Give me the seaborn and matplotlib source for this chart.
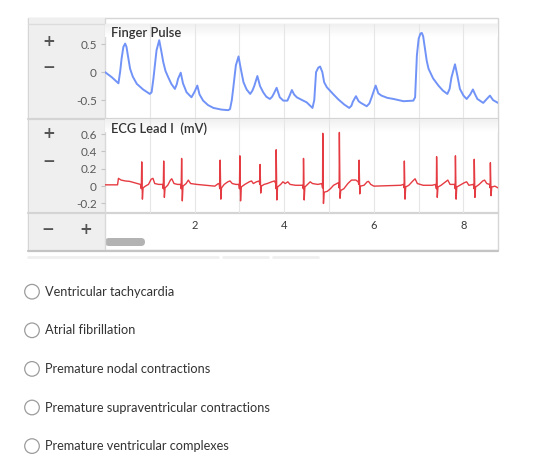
import matplotlib
matplotlib.use('Agg')
import numpy as np
import matplotlib.pyplot as plt
import seaborn as sns
from matplotlib.patches import Rectangle, FancyBboxPatch, Circle
from matplotlib.colors import LinearSegmentedColormap

# finger pulse trace (s, a.u.)
pulse_t = [0.00, 0.15, 0.30, 0.34, 0.37, 0.41, 0.45, 0.48, 0.51, 0.56, 0.62, 0.71, 0.85, 1.00,
           1.04, 1.08, 1.15, 1.21, 1.26, 1.30, 1.35, 1.41, 1.48, 1.56, 1.60, 1.63, 1.69, 1.74,
           1.82, 1.93, 2.00, 2.06, 2.11, 2.19, 2.30, 2.42, 2.60, 2.75, 2.79, 2.83, 2.86, 2.92,
           2.98, 3.03, 3.09, 3.16, 3.24, 3.29, 3.33, 3.40, 3.46, 3.53, 3.60, 3.68, 3.73, 3.77,
           3.83, 3.90, 3.98, 4.07, 4.12, 4.17, 4.22, 4.28, 4.40, 4.50, 4.63, 4.67, 4.71, 4.76,
           4.80, 4.85, 4.89, 4.95, 5.10, 5.21, 5.34, 5.45, 5.50, 5.53, 5.60, 5.66, 5.71, 5.84,
           5.90, 5.95, 6.04, 6.10, 6.17, 6.30, 6.44, 6.66, 6.88, 6.92, 6.96, 7.00, 7.04, 7.07,
           7.10, 7.14, 7.18, 7.22, 7.32, 7.44, 7.54, 7.64, 7.69, 7.73, 7.81, 7.86, 7.92, 8.00,
           8.07, 8.15, 8.21, 8.26, 8.31, 8.44, 8.52, 8.59, 8.66, 8.77]
pulse_v = [0.00, -0.09, -0.20, 0.02, 0.24, 0.45, 0.51, 0.45, 0.30, 0.06, -0.08, -0.21, -0.31, -0.39,
           -0.36, -0.12, 0.39, 0.57, 0.36, 0.18, 0.02, -0.09, -0.21, -0.30, -0.22, -0.12, -0.01, -0.20,
           -0.36, -0.45, -0.35, -0.24, -0.40, -0.51, -0.59, -0.64, -0.67, -0.68, -0.66, -0.50, -0.30, 0.12,
           0.28, 0.06, -0.18, -0.31, -0.39, -0.33, -0.25, -0.07, -0.25, -0.36, -0.44, -0.48, -0.44, -0.38,
           -0.28, -0.45, -0.51, -0.51, -0.42, -0.32, -0.40, -0.45, -0.50, -0.54, -0.64, -0.50, 0.00, 0.08,
           0.10, 0.00, -0.18, -0.27, -0.40, -0.49, -0.58, -0.64, -0.60, -0.53, -0.43, -0.52, -0.55, -0.61,
           -0.56, -0.45, -0.24, -0.38, -0.42, -0.46, -0.48, -0.52, -0.51, -0.45, 0.30, 0.60, 0.69, 0.70,
           0.64, 0.42, 0.20, 0.06, -0.11, -0.24, -0.33, -0.39, -0.30, -0.10, 0.14, -0.05, -0.30, -0.42,
           -0.48, -0.40, -0.31, -0.40, -0.48, -0.55, -0.48, -0.42, -0.50, -0.55]

# ECG lead I trace (s, mV)
ecg_t = [0.00, 0.28, 0.30, 0.36, 0.45, 0.55, 0.65, 0.72, 0.79,
         0.81, 0.82, 0.835, 0.85, 0.90, 0.97, 1.03, 1.07, 1.11, 1.20, 1.29,
         1.30, 1.31, 1.325, 1.34, 1.40, 1.46, 1.49, 1.54, 1.62, 1.69,
         1.70, 1.71, 1.725, 1.74, 1.81, 1.86, 1.91, 2.05, 2.25, 2.45, 2.53, 2.55,
         2.56, 2.57, 2.585, 2.60, 2.66, 2.74, 2.79, 2.84, 2.92, 2.99,
         3.00, 3.01, 3.025, 3.04, 3.12, 3.22, 3.27, 3.31, 3.38, 3.44,
         3.455, 3.46, 3.475, 3.49, 3.55, 3.62, 3.72, 3.78, 3.81,
         3.815, 3.82, 3.835, 3.85, 3.92, 3.97, 4.02, 4.08, 4.13, 4.25, 4.41,
         4.425, 4.43, 4.445, 4.46, 4.52, 4.58, 4.63, 4.75, 4.84,
         4.855, 4.86, 4.875, 4.89, 4.96, 5.03, 5.10, 5.17, 5.21,
         5.225, 5.23, 5.245, 5.26, 5.33, 5.42, 5.50, 5.60, 5.65,
         5.665, 5.67, 5.685, 5.70, 5.78, 5.85, 5.88, 5.93, 6.00, 6.30, 6.60, 6.66,
         6.675, 6.68, 6.695, 6.71, 6.78, 6.87, 6.92, 6.97, 7.10, 7.30, 7.38,
         7.395, 7.40, 7.415, 7.43, 7.50, 7.60, 7.65, 7.70, 7.80,
         7.815, 7.82, 7.835, 7.85, 7.92, 8.02, 8.07, 8.12, 8.22,
         8.235, 8.24, 8.255, 8.27, 8.35, 8.43, 8.47, 8.52, 8.58,
         8.595, 8.60, 8.615, 8.63, 8.70, 8.77]
ecg_mv = [0.015, 0.015, 0.09, 0.07, 0.06, 0.055, 0.04, 0.03, 0.02,
          -0.03, 0.28, -0.15, -0.02, 0.00, 0.02, 0.08, 0.09, 0.03, 0.02, 0.02,
          -0.03, 0.29, -0.13, -0.02, 0.01, 0.07, 0.085, 0.03, 0.02, 0.02,
          -0.03, 0.32, -0.17, 0.00, 0.03, 0.07, 0.03, 0.02, 0.01, 0.00, 0.03, 0.02,
          -0.03, 0.30, -0.15, -0.02, 0.02, 0.05, 0.06, 0.03, 0.02, 0.02,
          -0.03, 0.35, -0.17, -0.01, 0.02, 0.05, 0.06, 0.03, 0.05, 0.06,
          0.02, 0.25, -0.08, 0.00, 0.02, 0.03, 0.05, 0.06, 0.03,
          -0.03, 0.42, -0.16, -0.01, 0.02, 0.05, 0.03, 0.05, 0.02, 0.01, 0.01,
          -0.03, 0.32, -0.16, -0.01, 0.02, 0.05, 0.03, 0.02, 0.03,
          -0.02, 0.61, -0.20, -0.07, -0.06, -0.03, 0.01, 0.03, 0.04,
          -0.02, 0.62, -0.14, -0.05, -0.03, 0.03, 0.07, 0.07, 0.05,
          0.02, 0.30, -0.09, 0.00, 0.01, 0.05, 0.055, 0.02, 0.00, 0.005, 0.01, 0.02,
          -0.02, 0.29, -0.15, -0.01, 0.01, 0.06, 0.085, 0.03, 0.01, 0.01, 0.02,
          -0.03, 0.34, -0.13, -0.01, 0.01, 0.05, 0.07, 0.02, 0.02,
          -0.03, 0.35, -0.15, -0.01, 0.01, 0.04, 0.05, 0.01, 0.02,
          -0.03, 0.31, -0.13, -0.01, 0.02, 0.06, 0.07, 0.03, 0.02,
          -0.02, 0.27, -0.11, -0.01, 0.00, -0.02]

pulse_yticks = [-0.5, 0, 0.5]
ecg_yticks = [-0.2, 0, 0.2, 0.4, 0.6]
time_ticks = [1, 2, 3, 4, 5, 6, 7, 8]
time_labels = ['', '2', '', '4', '', '6', '', '8']

answer_options = ['Ventricular tachycardia', 'Atrial fibrillation',
                  'Premature nodal contractions',
                  'Premature supraventricular contractions',
                  'Premature ventricular complexes']

sns.set_style('white')
plt.rcParams['font.family'] = ['Lato', 'DejaVu Sans']
plt.rcParams['axes.unicode_minus'] = False

W, H = 560, 466
fig = plt.figure(figsize=(5.6, 4.66), dpi=100)


def box(x0, y0, x1, y1):
    # pixel box (top-left origin) -> figure fraction rect
    return [x0 / W, 1 - y1 / H, (x1 - x0) / W, (y1 - y0) / H]


# background canvas in pixel units for the widget frame and the quiz
bg = fig.add_axes([0, 0, 1, 1], zorder=-1)
bg.set_xlim(0, W)
bg.set_ylim(H, 0)
bg.axis('off')

bg.add_patch(Rectangle((28, 18), 470, 232, fc='white', ec='#d6d6d6', lw=1))
bg.add_patch(Rectangle((28.5, 18), 76.5, 232, fc='#efefef', ec='none'))
for yy, c, lw in [(24, '#dcdcdc', 1), (118.5, '#d4d4d4', 1.6), (213, '#d4d4d4', 1.6)]:
    bg.plot([28, 498], [yy, yy], color=c, lw=lw)
bg.plot([105, 105], [18, 250], color='#d9d9d9', lw=1)
bg.plot([28, 498], [250.5, 250.5], color='#c4c4c4', lw=1.6)
for x0, x1 in [(28, 218), (223, 268), (273, 318)]:
    bg.plot([x0, x1], [256.5, 256.5], color='#efefef', lw=2)

# zoom buttons
for x, y, s in [(49, 41, '+'), (49, 68, '\u2212'), (49, 134, '+'), (49, 161, '\u2212'),
                (48, 230, '\u2212'), (86, 230, '+')]:
    bg.text(x, y, s, ha='center', va='center', fontsize=11, fontweight='bold',
            color='#555555', family='DejaVu Sans')

# scrollbar
bg.add_patch(FancyBboxPatch((105, 238), 40, 8, boxstyle='round,pad=0,rounding_size=4',
                            fc='#b3b3b3', ec='none'))

# answer options
for i, opt in enumerate(answer_options):
    yy = 291.7 + i * 38.6
    bg.add_patch(Circle((32, yy), 7.3, fc='white', ec='#9c9c9c', lw=0.9))
    bg.text(45, yy, opt, ha='left', va='center', fontsize=9.2, color='#333333')

grad = LinearSegmentedColormap.from_list('hdr', ['white', '#efefef'])

ax_pulse = fig.add_axes(box(105, 24, 498, 118))
ax_ecg = fig.add_axes(box(105, 119, 498, 213))

sns.lineplot(x=pulse_t, y=pulse_v, ax=ax_pulse, color='#7193f7', lw=1.4,
             estimator=None, solid_joinstyle='round')
sns.lineplot(x=ecg_t, y=ecg_mv, ax=ax_ecg, color='#e3262d', lw=1.0, alpha=0.9,
             estimator=None)

for ax, ylim, yt, title in [(ax_pulse, (-0.82, 0.86), pulse_yticks, 'Finger Pulse'),
                            (ax_ecg, (-0.31, 0.775), ecg_yticks, 'ECG Lead I  (mV)')]:
    ax.set_facecolor('none')
    ax.imshow(np.linspace(0, 1, 30)[:, None], extent=(0, 1, 0.86, 1.0),
              transform=ax.transAxes, cmap=grad, aspect='auto', origin='lower', zorder=0)
    ax.set_xlim(0, 8.77)
    ax.set_ylim(*ylim)
    ax.set_yticks(yt)
    ax.set_yticklabels([f'{v:g}' for v in yt])
    ax.set_xticks(time_ticks)
    ax.grid(axis='x', color='#e6e6e6', lw=0.8)
    ax.set_axisbelow(True)
    for sp in ax.spines.values():
        sp.set_visible(False)
    ax.tick_params(axis='y', length=3, width=0.8, color='#c4c4c4', labelsize=8.5,
                   labelcolor='#595959', pad=3, left=True)
    ax.set_xlabel('')
    ax.set_ylabel('')
    ax.text(0.016, 0.965, title, transform=ax.transAxes, ha='left', va='top',
            fontsize=9.3, fontweight='semibold', color='#333333')

ax_pulse.tick_params(axis='x', length=0, labelbottom=False)
ax_ecg.set_xticklabels(time_labels)
ax_ecg.tick_params(axis='x', length=0, pad=5, labelsize=8, labelcolor='#3a3a3a')

fig.savefig('out.png', dpi=100)
